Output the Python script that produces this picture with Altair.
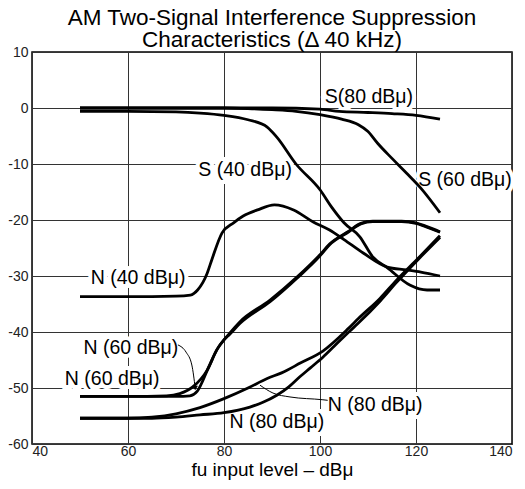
import altair as alt
import pandas as pd

FONT = "Liberation Sans"

# ---- curve data ----
s80_x = [50, 60, 70, 80, 90, 100, 104, 110, 115, 120, 125]
s80_y = [0, 0, 0, 0, 0, -0.2, -0.6, -0.8, -1.0, -1.3, -2.0]

s60_x = [50, 60, 70, 80, 85, 90, 95, 100, 104.5, 108, 110, 112, 115, 118, 121, 125]
s60_y = [0, 0, 0, 0, -0.1, -0.3, -0.6, -1.2, -2.0, -3.0, -4.2, -6.3, -9.0, -11.6, -14.3, -18.7]

s40_x = [50, 60, 70, 75, 80, 85, 89, 91, 95, 100, 102.5, 105, 108.3, 111, 114, 118.7, 122.3, 125]
s40_y = [-0.6, -0.6, -0.7, -0.9, -1.3, -2.1, -3.4, -5.2, -10.0, -14.6, -17.8, -20.5, -23.0, -26.6, -28.5, -31.6, -32.5, -32.5]

n40_x = [50, 60, 70, 73, 74.5, 76.5, 77.5, 79.6, 82, 84, 87, 90.5, 94.5, 98.5, 102, 105, 109, 114, 118, 121, 125]
n40_y = [-33.7, -33.7, -33.6, -33.4, -32.5, -29.5, -27.0, -22.3, -20.5, -19.3, -18.2, -17.3, -18.2, -20.3, -21.8, -23.5, -25.9, -28.4, -28.9, -29.3, -30.0]

n60a_x = [50, 60, 68, 70.8, 73.5, 76.5, 78.5, 81.2, 83.3, 89.6, 95.2, 100, 102, 106, 108.5, 111, 117, 120, 122, 125]
n60a_y = [-51.5, -51.5, -51.4, -51.0, -49.8, -46.8, -43.2, -40.2, -38.2, -34.3, -30.2, -26.2, -24.3, -22.0, -20.6, -20.2, -20.2, -20.5, -21.1, -22.1]

n60b_x = [50, 60, 70, 72.9, 74.4, 76.7, 78.5, 80, 81.2, 83.3, 89.6, 95.2, 100, 102, 106, 108.5, 111, 117, 120, 122, 125]
n60b_y = [-51.5, -51.5, -51.5, -51.4, -50.6, -46.5, -43.2, -41.4, -40.4, -38.5, -34.6, -30.4, -26.4, -24.4, -22.1, -20.7, -20.3, -20.3, -20.6, -21.2, -22.2]

n80a_x = [50, 60, 65, 70, 75, 80, 85, 89, 92, 96, 100.6, 106, 108, 112.5, 116, 120.5, 125]
n80a_y = [-55.4, -55.4, -55.2, -54.6, -53.5, -51.9, -50.0, -48.3, -47.3, -45.5, -43.4, -39.3, -37.6, -34.0, -30.7, -26.8, -22.8]

n80b_x = [50, 60, 65, 70, 75, 80, 85.4, 88, 91, 93.5, 95.8, 98, 100.6, 103, 106, 108, 112.5, 116, 120.5, 125]
n80b_y = [-55.4, -55.4, -55.4, -55.2, -54.8, -54.4, -53.4, -52.6, -51.3, -49.8, -48.0, -46.4, -44.5, -42.5, -40.0, -38.4, -34.5, -31.1, -27.0, -23.1]

# ---- annotation labels ----
label_text = ["S(80 dBμ)", "S (40 dBμ)", "S (60 dBμ)", "N (40 dBμ)",
              "N (60 dBμ)", "N (60 dBμ)", "N (80 dBμ)", "N (80 dBμ)"]
label_x = [110.2, 84.4, 130.2, 62.1, 60.6, 56.7, 91.0, 111.5]
label_y = [2.0, -11.1, -12.8, -30.4, -42.9, -48.4, -56.1, -53.0]

# leader lines
arrow60_x = [70.4, 72.1, 73.3, 74.0]
arrow60_y = [-42.3, -43.6, -45.9, -50.0]
lead80_x = [87.5, 90.2, 93.75, 100.6, 101.6]
lead80_y = [-49.5, -50.9, -51.6, -52.1, -52.2]

x_ticks = [40, 60, 80, 100, 120, 140]
y_ticks = [10, 0, -10, -20, -30, -40, -50, -60]

series = [("S80", s80_x, s80_y), ("S60", s60_x, s60_y), ("S40", s40_x, s40_y),
          ("N40", n40_x, n40_y), ("N60a", n60a_x, n60a_y), ("N60b", n60b_x, n60b_y),
          ("N80a", n80a_x, n80a_y), ("N80b", n80b_x, n80b_y)]
rows = []
for name, xs, ys in series:
    for i, (xv, yv) in enumerate(zip(xs, ys)):
        rows.append({"series": name, "x": xv, "y": yv, "order": i})
df = pd.DataFrame(rows)

labels_df = pd.DataFrame({"label": label_text, "x": label_x, "y": label_y})

lead_rows = []
for name, xs, ys in [("a60", arrow60_x, arrow60_y), ("l80", lead80_x, lead80_y)]:
    for i, (xv, yv) in enumerate(zip(xs, ys)):
        lead_rows.append({"series": name, "x": xv, "y": yv, "order": i})
lead_df = pd.DataFrame(lead_rows)
head_df = pd.DataFrame({"x": [arrow60_x[-1]], "y": [arrow60_y[-1]]})

xscale = alt.Scale(domain=[40, 140], nice=False, zero=False)
yscale = alt.Scale(domain=[-60, 10], nice=False, zero=False)
xaxis = alt.Axis(values=x_ticks, title="fu input level – dBμ", grid=True, ticks=False,
                 tickSize=0, domain=False, labelPadding=0, titlePadding=2,
                 labelExpr="datum.value + ''")
yaxis = alt.Axis(values=y_ticks, title=None, grid=True, ticks=False, tickSize=0,
                 domain=False, labelPadding=4, labelExpr="datum.value + ''")


def X():
    return alt.X("x:Q", scale=xscale, axis=xaxis)


def Y():
    return alt.Y("y:Q", scale=yscale, axis=yaxis)


lines = alt.Chart(df).mark_line(color="black", strokeWidth=2.8, interpolate="monotone").encode(
    x=X(), y=Y(), detail="series:N", order="order:Q")

halo = alt.Chart(labels_df).mark_text(font=FONT, fontSize=19.5, fill="white", stroke="white",
                                      strokeWidth=8, align="center", baseline="middle").encode(
    x=X(), y=Y(), text="label:N")
text = alt.Chart(labels_df).mark_text(font=FONT, fontSize=19.5, color="black",
                                      align="center", baseline="middle").encode(
    x=X(), y=Y(), text="label:N")

leads = alt.Chart(lead_df).mark_line(color="black", strokeWidth=1, interpolate="monotone").encode(
    x=X(), y=Y(), detail="series:N", order="order:Q")
head = alt.Chart(head_df).mark_point(shape="triangle-down", filled=True, color="black",
                                     size=30, opacity=1).encode(x=X(), y=Y())

chart = alt.layer(halo, lines, leads, head, text).properties(
    width=480, height=392,
    title=alt.TitleParams(text=["AM Two-Signal Interference Suppression",
                                "Characteristics (Δ 40 kHz)"],
                          font=FONT, fontSize=22.5, fontWeight="normal", lineHeight=21.5,
                          color="black", anchor="middle", offset=-6),
    autosize=alt.AutoSizeParams(type="none"),
    padding={"left": 24, "top": 44, "right": 5, "bottom": 37},
).configure_view(stroke="black", strokeWidth=1.5).configure_axis(
    labelFont=FONT, labelFontSize=14, labelColor="#222", titleFont=FONT,
    titleFontSize=19, titleFontWeight="normal", titleColor="black",
    gridColor="#333", gridWidth=1, gridOpacity=1)

chart.save("out.html", embed_options={"renderer": "svg", "actions": False})
